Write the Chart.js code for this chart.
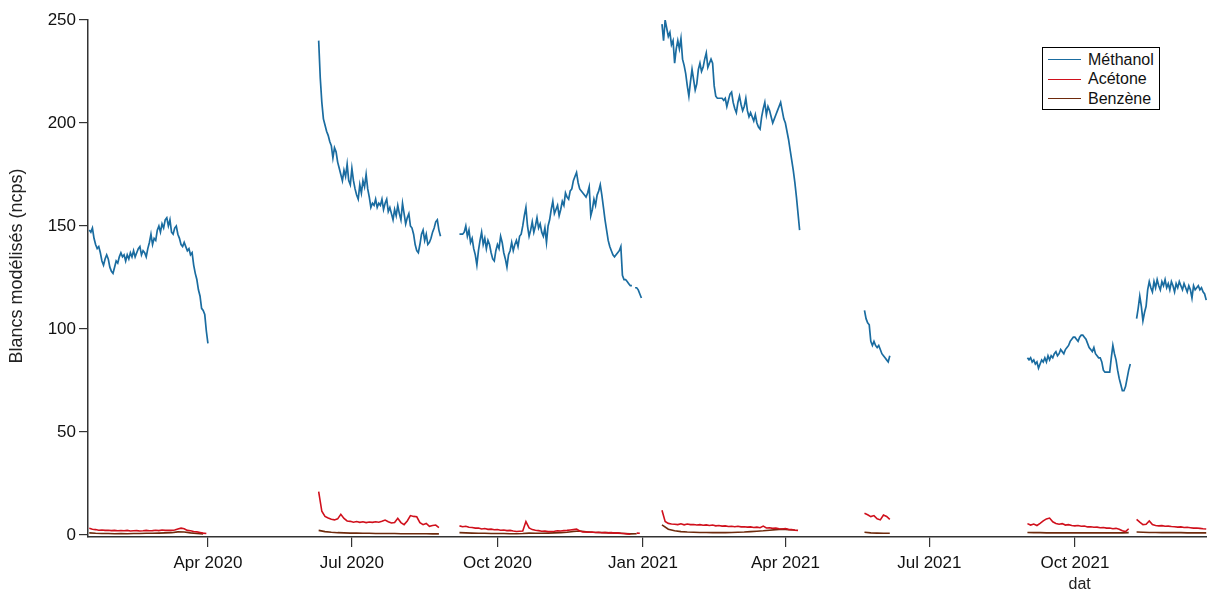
<!DOCTYPE html>
<html>
<head>
<meta charset="utf-8">
<script src="https://cdn.jsdelivr.net/npm/chart.js@4/dist/chart.umd.min.js"></script>
<style>
  body { margin: 0; background: #fff; overflow: hidden; }
  #wrap { position: relative; width: 1207px; height: 593px; }
  #legende {
    position: absolute; left: 1042px; top: 47px; width: 118px; height: 63px;
    border: 1px solid #000; background: #fff;
    font-family: 'Liberation Sans', Arial, sans-serif; font-size: 16px; color: #111;
    padding-top: 2px; box-sizing: border-box;
  }
  #legende .item { display: flex; align-items: center; height: 19.5px; }
  #legende .trait { width: 33px; height: 0; margin: 0 7px 0 5px; border-top: 1.5px solid; }
</style>
</head>
<body>
<div id="wrap">
  <canvas id="graphe" width="1207" height="593"></canvas>
  <div id="legende"></div>
</div>
<script>
// jours depuis le 1er janvier 2020
const debutPeriodes = [16, 161, 250, 378, 506, 609, 678];

const tickJours = [91, 182, 274, 366, 456, 547, 639];
const tickLabels = ['Apr 2020', 'Jul 2020', 'Oct 2020', 'Jan 2021', 'Apr 2021', 'Jul 2021', 'Oct 2021'];
const yTicks = [0, 50, 100, 150, 200, 250];

// Méthanol, un point par jour
const methanol = [
  [148, 147, 149, 144, 141, 139, 140, 137, 133, 131, 134, 136, 134, 130, 128, 127, 130, 133, 132, 135,
   137, 135, 136, 133, 136, 134, 137, 135, 138, 135, 137, 139, 140, 136, 138, 137, 135, 139, 142, 146,
   141, 144, 143, 148, 150, 147, 151, 149, 153, 154, 150, 153, 147, 146, 149, 150, 146, 144, 141, 140,
   142, 140, 138, 139, 136, 137, 131, 127, 124, 119, 116, 110, 109, 107, 99, 93],
  [240, 222, 210, 202, 199, 196, 194, 191, 189, 183, 188, 186, 181, 178, 175, 172, 177, 174, 180, 172,
   170, 178, 172, 168, 165, 163, 170, 166, 172, 169, 175, 168, 164, 159, 161, 160, 163, 159, 161, 160,
   163, 158, 161, 163, 157, 159, 156, 153, 158, 155, 160, 156, 153, 161, 156, 151, 154, 156, 150, 149,
   146, 141, 138, 137, 141, 146, 148, 143, 146, 141, 142, 144, 147, 149, 152, 153, 148, 145],
  [146, 146, 146, 147, 150, 145, 148, 142, 144, 139, 136, 131, 138, 143, 147, 141, 144, 139, 143, 141,
   137, 134, 133, 138, 141, 139, 145, 142, 137, 134, 130, 136, 138, 142, 138, 141, 143, 140, 145, 146,
   150, 155, 159, 150, 145, 148, 152, 147, 150, 154, 149, 151, 147, 145, 149, 142, 150, 153, 158, 162,
   156, 158, 160, 155, 158, 162, 160, 166, 164, 163, 167, 168, 172, 174, 176, 171, 168, 167, 166, 165,
   164, 166, 169, 155, 158, 163, 160, 165, 167, 170, 165, 159, 153, 148, 143, 140, 138, 136, 135, 136,
   137, 138, 140, 126, 124, 124, 123, 122, 121, 121, null, 120, 120, 119, 117, 115],
  [248, 240, 250, 246, 242, 244, 238, 240, 229, 236, 240, 236, 241, 231, 228, 224, 218, 213, 220, 226,
   221, 216, 219, 226, 229, 225, 227, 231, 234, 227, 229, 231, 229, 218, 213, 212, 212, 212, 212, 211,
   212, 208, 211, 214, 215, 210, 207, 205, 210, 213, 209, 206, 208, 212, 206, 203, 205, 203, 201, 204,
   200, 198, 197, 203, 207, 210, 204, 208, 206, 203, 200, 202, 204, 206, 208, 210, 206, 202, 200, 196,
   192, 187, 182, 177, 171, 164, 156, 148],
  [109, 105, 103, 102, 94, 92, 94, 92, 91, 92, 90, 88, 87, 86, 85, 84, 87],
  [86, 85, 86, 84, 85, 83, 84, 81, 83, 85, 84, 86, 84, 87, 85, 87, 86, 88, 89, 87,
   88, 90, 89, 88, 90, 91, 92, 94, 95, 96, 96, 95, 94, 96, 97, 97, 96, 95, 93, 91,
   90, 89, 91, 88, 87, 86, 86, 84, 80, 79, 79, 79, 79, 86, 92, 88, 85, 80, 76, 73,
   70, 70, 72, 76, 80, 83],
  [105, 110, 116, 111, 104, 108, 111, 119, 123, 120, 118, 123, 120, 124, 121, 119, 123, 121, 124, 120,
   122, 119, 123, 121, 118, 122, 120, 123, 121, 119, 122, 120, 118, 121, 119, 115, 121, 119, 120, 121,
   119, 120, 118, 117, 114]
];

// Acétone, un point tous les 2 jours
const acetone = [
  [3.2, 2.8, 2.6, 2.3, 2.4, 2.2, 2.3, 2.1, 2.2, 2.0, 2.1, 2.0, 2.2, 1.9, 2.0, 2.1, 1.9, 2.0, 2.2, 2.0,
   2.1, 2.3, 2.1, 2.4, 2.2, 2.3, 2.2, 2.4, 2.9, 3.3, 3.0, 2.2, 2.0, 1.7, 1.5, 1.2, 0.9, 0.7],
  [21, 11.5, 9.0, 8.2, 7.6, 7.3, 7.8, 10.0, 8.0, 6.8, 6.6, 6.2, 6.5, 6.1, 6.4, 6.0, 6.3, 6.1, 6.4, 6.2,
   6.6, 7.2, 6.4, 5.8, 6.0, 8.1, 6.0, 5.0, 6.8, 9.4, 9.0, 8.8, 6.0, 5.0, 5.6, 4.2, 4.6, 4.8, 3.6],
  [4.4, 4.0, 4.2, 3.7, 3.6, 3.3, 3.4, 2.9, 3.1, 2.7, 2.8, 2.5, 2.6, 2.3, 2.4, 2.1, 2.2, 1.9, 1.7, 1.8,
   1.9, 6.5, 3.4, 2.6, 2.3, 2.1, 1.8, 1.9, 1.6, 1.7, 1.8, 2.0, 1.9, 2.1, 2.2, 2.4, 2.6, 2.8, 1.9, 1.4,
   1.5, 1.3, 1.4, 1.2, 1.3, 1.1, 1.2, 1.0, 1.1, 0.9, 1.0, 0.8, 0.7, 0.5, 0.4, null, 0.9, 0.8],
  [12.0, 6.5, 5.6, 5.3, 5.2, 5.0, 5.4, 4.9, 5.3, 5.0, 5.1, 4.8, 5.0, 4.7, 4.9, 4.6, 4.8, 4.4, 4.6, 4.3,
   4.4, 4.1, 4.2, 4.0, 4.2, 3.9, 4.0, 3.8, 3.9, 3.6, 3.8, 3.5, 4.3, 3.4, 3.5, 3.2, 3.3, 3.0, 2.9, 3.1,
   2.7, 2.6, 2.3, 2.2],
  [10.5, 9.8, 8.9, 9.4, 7.8, 7.3, 9.7, 9.0, 7.6],
  [5.5, 4.8, 5.3, 4.6, 5.6, 6.8, 7.8, 8.2, 6.4, 5.6, 5.2, 5.5, 4.8, 5.0, 4.6, 4.4, 4.6, 4.2, 4.3, 3.9,
   4.0, 3.7, 3.8, 3.5, 3.6, 3.3, 3.4, 3.0, 3.2, 2.8, 2.0, 1.6, 3.0],
  [7.6, 6.2, 5.0, 5.2, 6.8, 5.0, 4.6, 4.4, 4.5, 4.2, 4.3, 4.1, 4.0, 3.8, 3.9, 3.6, 3.7, 3.5, 3.3, 3.4,
   3.2, 3.0, 2.9]
];

// Benzène, un point tous les 4 jours
const benzene = [
  [1.0, 0.8, 0.7, 0.7, 0.6, 0.7, 0.6, 0.7, 0.7, 0.8, 0.8, 0.9, 1.0, 1.1, 1.5, 1.4, 1.0, 0.7, 0.5],
  [2.2, 1.6, 1.3, 1.1, 1.0, 0.9, 0.9, 0.8, 0.8, 0.7, 0.7, 0.7, 0.7, 0.6, 0.6, 0.6, 0.6, 0.6, 0.5, 0.5],
  [1.1, 1.0, 0.9, 0.8, 0.8, 0.7, 0.7, 0.7, 0.6, 0.6, 0.7, 0.9, 0.8, 0.8, 0.9, 1.0, 1.1, 1.3, 1.7, 1.9,
   1.5, 1.3, 1.2, 1.1, 1.0, 0.9, 0.7, 0.5, 0.6],
  [4.9, 2.8, 2.0, 1.6, 1.4, 1.3, 1.2, 1.2, 1.1, 1.1, 1.1, 1.2, 1.3, 1.4, 1.6, 1.8, 2.0, 2.3, 2.6, 2.8,
   2.5, 2.4],
  [1.3, 1.0, 0.9, 0.8, 0.8],
  [1.2, 1.1, 1.1, 1.0, 1.0, 1.0, 1.0, 1.0, 1.0, 1.0, 1.0, 1.0, 1.0, 1.0, 1.0, 1.0, 1.1],
  [1.4, 1.3, 1.2, 1.2, 1.1, 1.1, 1.1, 1.1, 1.0, 1.0, 1.0, 1.0]
];

function construirePoints(segments, pas) {
  const points = [];
  segments.forEach((valeurs, s) => {
    valeurs.forEach((v, i) => points.push({ x: debutPeriodes[s] + i * pas, y: v }));
    points.push({ x: debutPeriodes[s] + (valeurs.length - 1) * pas + 0.5, y: null });
  });
  return points;
}

const police = "'Liberation Sans', Arial, sans-serif";

const series = [
  { label: 'Méthanol', data: construirePoints(methanol, 1), couleur: '#1a6ca0', largeur: 1.7 },
  { label: 'Acétone', data: construirePoints(acetone, 2), couleur: '#d0101c', largeur: 1.6 },
  { label: 'Benzène', data: construirePoints(benzene, 4), couleur: '#6e2a0c', largeur: 1.6 }
];

// textes d'axe : "dat" sous Oct 2021 et titre vertical
const textes = {
  id: 'textes',
  afterDraw(chart) {
    const ctx = chart.ctx;
    ctx.save();
    ctx.fillStyle = '#222';
    ctx.textAlign = 'center';
    ctx.textBaseline = 'middle';
    ctx.font = '16px ' + police;
    ctx.fillText('dat', chart.scales.x.getPixelForValue(642), 585);
    ctx.translate(17, 266);
    ctx.rotate(-Math.PI / 2);
    ctx.font = '18px ' + police;
    ctx.fillText('Blancs modélisés (ncps)', 0, 0);
    ctx.restore();
  }
};

new Chart(document.getElementById('graphe'), {
  type: 'line',
  data: {
    datasets: series.map(s => ({
      label: s.label,
      data: s.data,
      borderColor: s.couleur,
      backgroundColor: s.couleur,
      borderWidth: s.largeur,
      pointRadius: 0,
      tension: 0,
      spanGaps: false
    }))
  },
  options: {
    responsive: false,
    animation: false,
    layout: { padding: { top: 20, right: 0, left: 0, bottom: 0 } },
    plugins: { legend: { display: false }, tooltip: { enabled: false } },
    scales: {
      x: {
        type: 'linear',
        min: 15.2,
        max: 722.5,
        afterFit: scale => { scale.height = 56; },
        afterBuildTicks: scale => { scale.ticks = tickJours.map(v => ({ value: v })); },
        border: { display: true, color: '#333', width: 1.5 },
        grid: { drawOnChartArea: false, drawTicks: true, tickLength: 10, color: '#333', lineWidth: 1.2 },
        ticks: {
          autoSkip: false, maxRotation: 0, padding: 6, color: '#111',
          font: { family: police, size: 17 },
          callback: v => tickLabels[tickJours.indexOf(v)]
        }
      },
      y: {
        min: -1,
        max: 250,
        afterFit: scale => { scale.width = 88; },
        afterBuildTicks: scale => { scale.ticks = yTicks.map(v => ({ value: v })); },
        border: { display: true, color: '#333', width: 1.5 },
        grid: { drawOnChartArea: false, drawTicks: true, tickLength: 9, color: '#333', lineWidth: 1.2 },
        ticks: { padding: 3, color: '#111', font: { family: police, size: 17 } }
      }
    }
  },
  plugins: [textes]
});

const legende = document.getElementById('legende');
series.forEach(s => {
  const item = document.createElement('div');
  item.className = 'item';
  item.innerHTML = `<span class="trait" style="border-color:${s.couleur}"></span>${s.label}`;
  legende.appendChild(item);
});
</script>
</body>
</html>
